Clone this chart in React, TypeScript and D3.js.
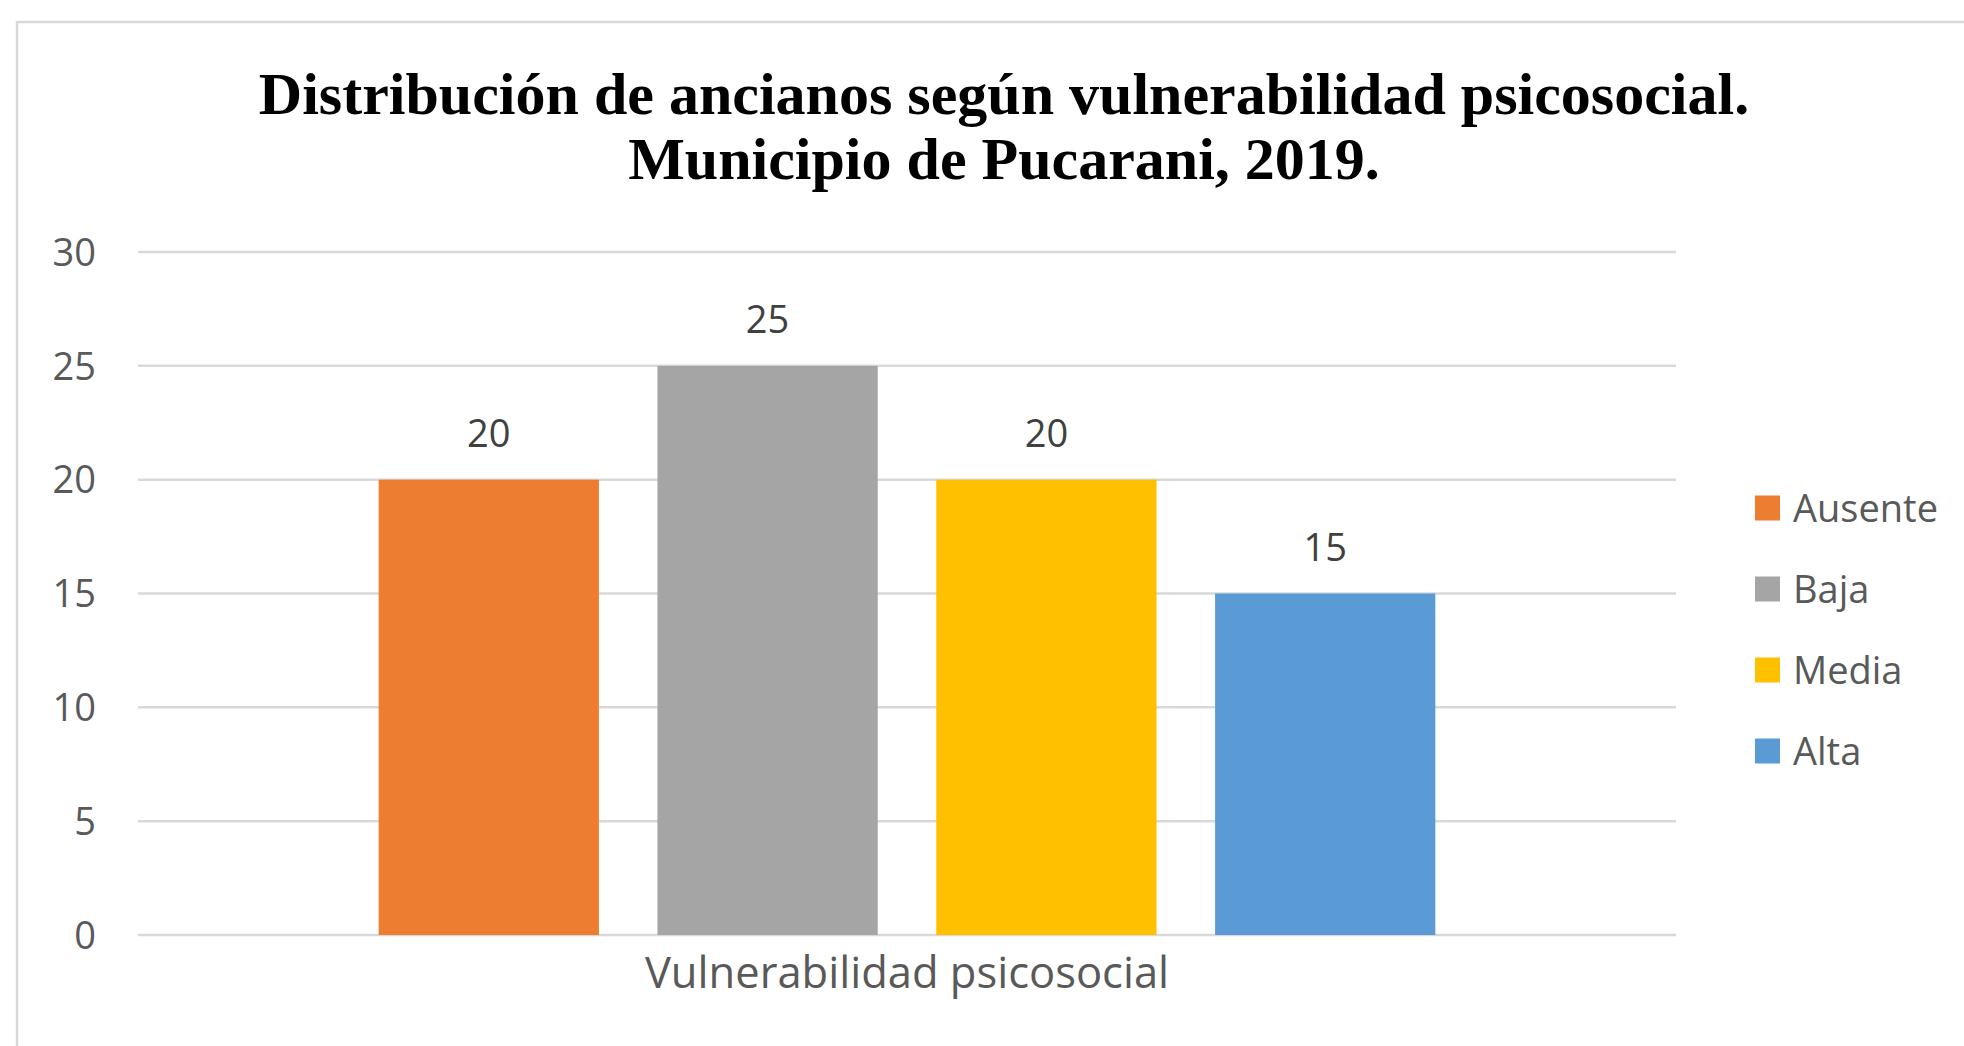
import * as d3 from 'd3';

// chart data
const categories = ['Vulnerabilidad psicosocial'];
const seriesNames = ['Ausente', 'Baja', 'Media', 'Alta'];
const seriesValues = [20, 25, 20, 15];
const seriesColors = ['#ED7D31', '#A5A5A5', '#FFC000', '#5B9BD5'];
const yTicks = [0, 5, 10, 15, 20, 25, 30];
const titleLines = [
  'Distribución de ancianos según vulnerabilidad psicosocial.',
  'Municipio de Pucarani, 2019.',
];

const W = 1964;
const H = 1046;
const margin = { top: 252, left: 138, right: 288, bottom: 111 };
const plotW = W - margin.left - margin.right;
const plotH = H - margin.top - margin.bottom;
const textColor = '#595959';
const font = '"Open Sans", sans-serif';

export default function App() {
  //scales
  const x0 = d3.scaleBand().domain(categories).range([0, plotW]).padding(0.1855);
  const x1 = d3
    .scaleBand()
    .domain(seriesNames)
    .range([0, x0.bandwidth()])
    .paddingInner(0.21)
    .paddingOuter(0);
  const y = d3.scaleLinear().domain([0, 30]).range([plotH, 0]);

  const legendX = 1755;
  const legendY = 508;
  const legendStep = 81;

  return (
    <svg
      width={W}
      height={H}
      style={{ position: 'absolute', left: 0, top: 0, background: '#fff' }}
    >
      {/* chart frame, runs off the right and bottom */}
      <rect x={17} y={22} width={2100} height={1200} fill="#fff" stroke="#d9d9d9" strokeWidth={2.5} />

      {/* title */}
      <text
        x={1004}
        textAnchor="middle"
        fontFamily='"Liberation Serif", "Times New Roman", serif'
        fontWeight="bold"
        fontSize={60}
        fill="#000"
      >
        {titleLines.map((t, i) => (
          <tspan key={i} x={1004} y={114 + i * 65}>
            {t}
          </tspan>
        ))}
      </text>

      <g transform={`translate(${margin.left},${margin.top})`}>
        {/* gridlines */}
        {yTicks.map((t) => (
          <line key={t} x1={0} x2={plotW} y1={y(t)} y2={y(t)} stroke="#d9d9d9" strokeWidth={2.5} />
        ))}
        {/* y tick labels */}
        {yTicks.map((t) => (
          <text
            key={'l' + t}
            x={-42}
            y={y(t)}
            dy="0.36em"
            textAnchor="end"
            fontFamily={font}
            fontSize={38}
            fill={textColor}
          >
            {t}
          </text>
        ))}

        {/* bars */}
        {categories.map((c) => (
          <g key={c} transform={`translate(${x0(c)},0)`}>
            {seriesNames.map((s, i) => (
              <g key={s}>
                <rect
                  x={x1(s)}
                  y={y(seriesValues[i])}
                  width={x1.bandwidth()}
                  height={plotH - y(seriesValues[i])}
                  fill={seriesColors[i]}
                />
                <text
                  x={(x1(s) ?? 0) + x1.bandwidth() / 2}
                  y={y(seriesValues[i]) - 33}
                  textAnchor="middle"
                  fontFamily={font}
                  fontSize={38}
                  fill="#404040"
                >
                  {seriesValues[i]}
                </text>
              </g>
            ))}
            <text
              x={x0.bandwidth() / 2}
              y={plotH + 53}
              textAnchor="middle"
              fontFamily={font}
              fontSize={43.5}
              fill={textColor}
            >
              {c}
            </text>
          </g>
        ))}
      </g>

      {/* legend */}
      {seriesNames.map((s, i) => (
        <g key={s} transform={`translate(${legendX},${legendY + i * legendStep})`}>
          <rect x={0} y={-12.5} width={25} height={25} fill={seriesColors[i]} />
          <text x={38} y={0} dy="0.36em" fontFamily={font} fontSize={38} fill={textColor}>
            {s}
          </text>
        </g>
      ))}
    </svg>
  );
}
